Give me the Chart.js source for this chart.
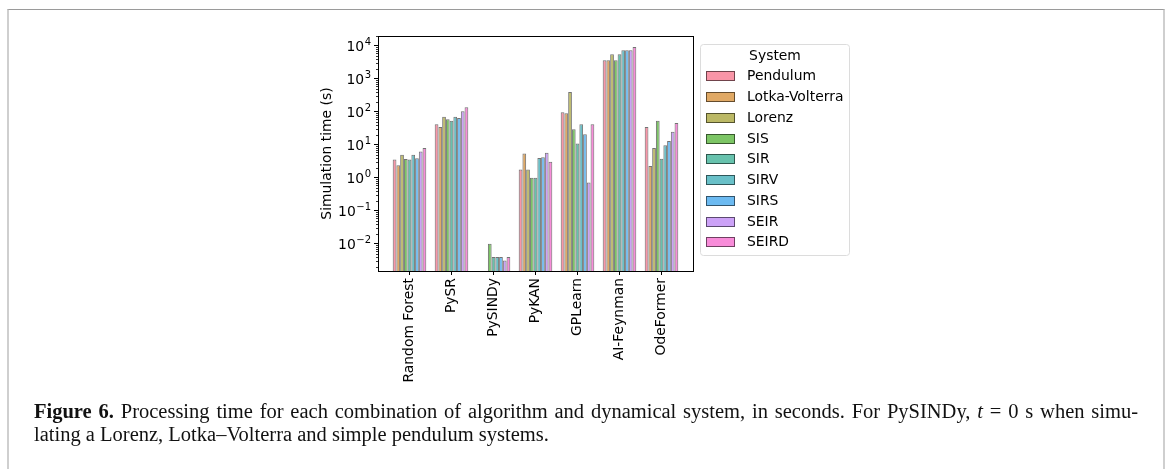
<!DOCTYPE html>
<html>
<head>
<meta charset="utf-8">
<script src="https://cdn.jsdelivr.net/npm/chart.js@4/dist/chart.umd.min.js"></script>
<style>
  html, body { margin: 0; padding: 0; background: #fff; }
  #wrap { position: relative; width: 1168px; height: 469px; overflow: hidden; }
  #frame { position: absolute; left: 7px; top: 9px; width: 1154px; height: 480px;
           border-top: 1px solid #9a9a9a; border-left: 2px solid #cfcfcf; border-right: 2px solid #cfcfcf; }
  canvas { position: absolute; left: 0; top: 0; }
  #caption { position: absolute; left: 34px; top: 400px; width: 1104px;
             font-family: "Liberation Serif", "DejaVu Serif", serif; font-size: 20.5px; line-height: 23px; color: #111; }
  #caption .l1 { text-align: justify; text-align-last: justify; white-space: nowrap; }
  #caption b { font-weight: bold; }
</style>
</head>
<body>
<div id="wrap">
  <div id="frame"></div>
  <canvas id="c" width="1168" height="469"></canvas>
  <div id="caption">
    <div class="l1"><b>Figure 6.</b> Processing time for each combination of algorithm and dynamical system, in seconds. For PySINDy, <i>t</i> = 0 s when simu-</div>
    <div>lating a Lorenz, Lotka–Volterra and simple pendulum systems.</div>
  </div>
</div>
<script>
// Algorithms on the x axis
const algorithms = ['Random Forest', 'PySR', 'PySINDy', 'PyKAN', 'GPLearn', 'AI-Feynman', 'OdeFormer'];
// Dynamical systems (one bar series each)
const systems = ['Pendulum', 'Lotka-Volterra', 'Lorenz', 'SIS', 'SIR', 'SIRV', 'SIRS', 'SEIR', 'SEIRD'];

// Simulation time in seconds, per system, in algorithm order
const pendulum      = [3.6, 42, 0,      1.8, 97,   3700, 35];
const lotkaVolterra = [2.4, 35, 0,      5.5, 91,   3700, 2.3];
const lorenz        = [5.0, 71, 0,      1.8, 400,  5600, 8.0];
const sis           = [3.7, 60, 0.010,  1.0, 30,   3700, 54];
const sir           = [3.6, 54, 0.004,  1.0, 11,   5600, 3.8];
const sirv          = [5.0, 71, 0.004,  4.0, 42,   7400, 9.8];
const sirs          = [3.9, 65, 0.004,  4.2, 21,   7400, 13];
const seir          = [6.3, 105, 0.0031, 5.8, 0.72, 7400, 25];
const seird         = [8.0, 138, 0.004, 3.1, 42,   9200, 46];
const seriesValues = [pendulum, lotkaVolterra, lorenz, sis, sir, sirv, sirs, seir, seird];

// Decade ticks for the log axis: value and exponent label
const yTickValues = [1e-2, 1e-1, 1e0, 1e1, 1e2, 1e3, 1e4];
const yTickExponents = ['−2', '−1', '0', '1', '2', '3', '4'];

// husl palette
const palette = ['#f77189', '#d58c32', '#a4a031', '#50b131', '#34ae91', '#37abb5', '#3ba3ec', '#bb83f4', '#f565cc'];
const ALPHA = 0.75;
function withAlpha(hex, a) {
  const r = parseInt(hex.slice(1, 3), 16), g = parseInt(hex.slice(3, 5), 16), b = parseInt(hex.slice(5, 7), 16);
  return `rgba(${r},${g},${b},${a})`;
}
const EDGE = 'rgba(0,0,0,0.55)';
const FONT = 'DejaVu Sans';
const FS = 13.9;

const datasets = systems.map((name, s) => ({
  label: name,
  // zero times cannot be shown on a log axis
  data: seriesValues[s].map((v, i) => ({ x: i, y: v > 0 ? v : null })),
  backgroundColor: withAlpha(palette[s], ALPHA),
  borderColor: EDGE,
  borderWidth: 1,
  borderSkipped: 'start',
  categoryPercentage: 0.8,
  barPercentage: 1.0
}));

// Black box around the plot, minor log ticks and "10^n" labels on the left spine
const framePlugin = {
  id: 'frame',
  afterDraw(chart) {
    const { ctx, chartArea: a } = chart;
    const y = chart.scales.y;
    ctx.save();
    ctx.strokeStyle = '#000';
    ctx.lineWidth = 1;
    ctx.strokeRect(Math.round(a.left) + 0.5, Math.round(a.top) + 0.5,
                   Math.round(a.right - a.left), Math.round(a.bottom - a.top));
    ctx.lineWidth = 0.8;
    ctx.beginPath();
    for (let e = -3; e <= 4; e++) {
      for (let m = 2; m <= 9; m++) {
        const v = m * Math.pow(10, e);
        if (v < y.min || v > y.max) continue;
        const py = Math.round(y.getPixelForValue(v)) + 0.5;
        ctx.moveTo(a.left, py);
        ctx.lineTo(a.left - 2, py);
      }
    }
    ctx.stroke();

    // decade labels with raised exponents
    ctx.fillStyle = '#000';
    ctx.textBaseline = 'alphabetic';
    const right = a.left - 7;
    yTickValues.forEach((v, i) => {
      const py = y.getPixelForValue(v);
      ctx.font = `10px "${FONT}"`;
      const ew = ctx.measureText(yTickExponents[i]).width;
      ctx.textAlign = 'right';
      ctx.fillText(yTickExponents[i], right, py - 1);
      ctx.font = `${FS}px "${FONT}"`;
      ctx.fillText('10', right - ew - 0.5, py + 5);
    });
    ctx.restore();
  }
};

// Boxed legend with a title, to the right of the plot
const legendPlugin = {
  id: 'boxLegend',
  afterDraw(chart) {
    const { ctx } = chart;
    const x0 = 700.5, y0 = 44.5, w = 149, h = 211;
    ctx.save();
    ctx.beginPath();
    ctx.roundRect(x0, y0, w, h, 3);
    ctx.fillStyle = 'rgba(255,255,255,0.8)';
    ctx.fill();
    ctx.strokeStyle = '#dcdcdc';
    ctx.lineWidth = 1;
    ctx.stroke();
    ctx.fillStyle = '#000';
    ctx.font = `${FS}px "${FONT}"`;
    ctx.textAlign = 'center';
    ctx.textBaseline = 'middle';
    ctx.fillText('System', 775, 56);
    ctx.textAlign = 'left';
    chart.data.datasets.forEach((ds, i) => {
      const cy = 76.3 + i * 20.75;
      ctx.fillStyle = ds.backgroundColor;
      ctx.fillRect(706, Math.round(cy - 5), 29, 10);
      ctx.strokeStyle = EDGE;
      ctx.strokeRect(706.5, Math.round(cy - 5) + 0.5, 28, 9);
      ctx.fillStyle = '#000';
      ctx.fillText(ds.label, 747, cy + 0.5);
    });
    ctx.restore();
  }
};

new Chart(document.getElementById('c'), {
  type: 'bar',
  data: { datasets },
  options: {
    responsive: false,
    animation: false,
    events: [],
    layout: { padding: { left: 316, top: 36, right: 475, bottom: 78 } },
    plugins: { legend: { display: false }, tooltip: { enabled: false } },
    scales: {
      x: {
        type: 'linear',
        min: -0.75,
        max: 6.75,
        offset: false,
        afterBuildTicks(scale) { scale.ticks = algorithms.map((_, i) => ({ value: i })); },
        afterFit(scale) { scale.height = 120; },
        grid: { drawOnChartArea: false, drawTicks: true, tickLength: 4, tickColor: '#000', offset: false },
        border: { display: false },
        ticks: {
          autoSkip: false, minRotation: 90, maxRotation: 90, padding: 3,
          color: '#000', font: { family: FONT, size: FS },
          callback: (v) => algorithms[v] ?? ''
        }
      },
      y: {
        type: 'logarithmic',
        min: 0.0015,
        max: 20000,
        afterBuildTicks(scale) { scale.ticks = yTickValues.map(v => ({ value: v, major: true })); },
        afterFit(scale) { scale.width = 62; },
        grid: { drawOnChartArea: false, drawTicks: true, tickLength: 4, tickColor: '#000' },
        border: { display: false },
        title: { display: true, text: 'Simulation time (s)', color: '#000', font: { family: FONT, size: FS }, padding: { top: 3, bottom: 4 } },
        ticks: { padding: 3, color: '#000', font: { family: FONT, size: FS }, callback: () => '' }
      }
    }
  },
  plugins: [framePlugin, legendPlugin]
});
</script>
</body>
</html>
